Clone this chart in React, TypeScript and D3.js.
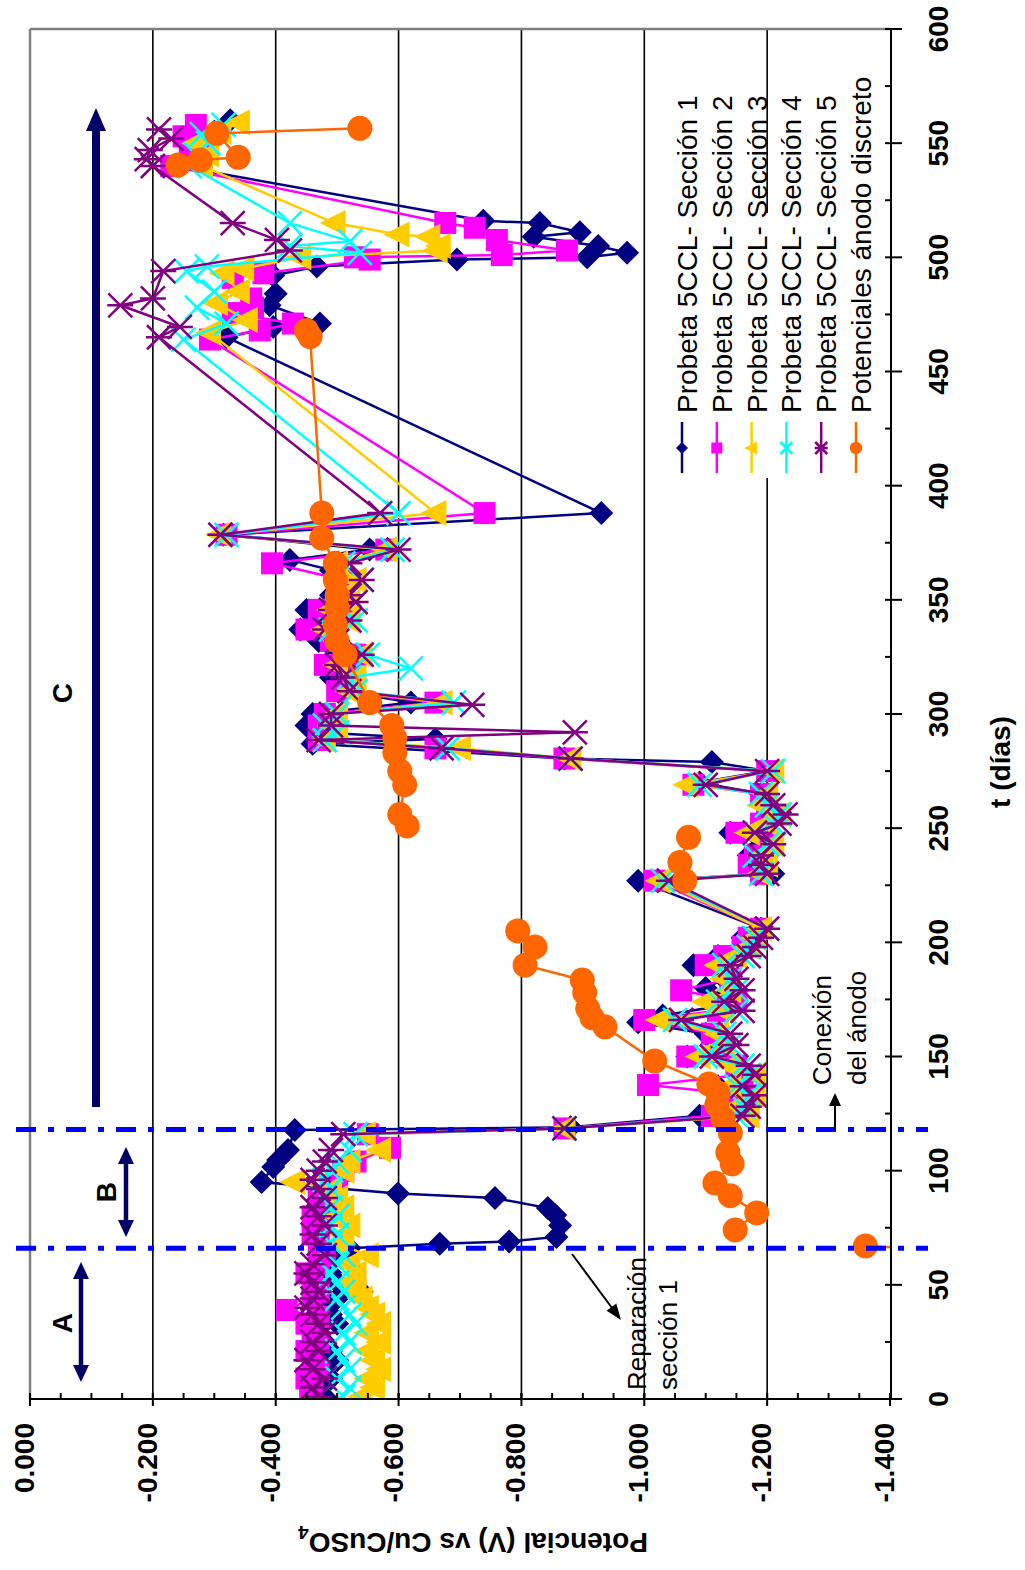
import React from 'react';
import * as d3 from 'd3';

type P = [number, number];

const timeTicks = d3.range(0, 601, 50);
const timeMinor = d3.range(25, 600, 50);
const potTicks = [0, -0.2, -0.4, -0.6, -0.8, -1.0, -1.2, -1.4];
const potMinor = d3.range(0, -1.401, -0.05);
const gridVals = [-0.2, -0.4, -0.6, -0.8, -1.0, -1.2];

const seriesNames = [
  'Probeta 5CCL- Sección 1',
  'Probeta 5CCL- Sección 2',
  'Probeta 5CCL- Sección 3',
  'Probeta 5CCL- Sección 4',
  'Probeta 5CCL- Sección 5',
  'Potenciales ánodo discreto',
];
const seriesColors = ['#000080', '#FF00FF', '#FFCC00', '#00FFFF', '#800080', '#FF6600'];
const seriesMarkers = ['diamond', 'square', 'triangle', 'x', 'star', 'circle'];

const serie1: P[] = [
  [1,-0.48],[5,-0.47],[9,-0.49],[13,-0.48],[17,-0.50],[21,-0.49],[25,-0.48],[29,-0.47],[33,-0.50],[37,-0.49],[40,-0.48],[44,-0.50],[47,-0.54],[51,-0.50],[55,-0.49],[59,-0.48],[63,-0.50],[66,-0.52],
  [68,-0.667],[69,-0.78],[71,-0.857],[76,-0.863],[80.6,-0.855],[83.6,-0.843],[88,-0.757],[90,-0.599],[95,-0.377],[101.6,-0.396],[104.7,-0.404],[109,-0.42],[117.8,-0.431],[119,-0.88],
  [124,-1.09],[128,-1.13],[133,-1.16],[137,-1.12],[142,-1.17],[146,-1.15],[150,-1.07],[155,-1.12],[160,-1.10],[165,-0.99],[168,-1.03],[172,-1.12],[176,-1.14],[180,-1.10],[184,-1.13],[190,-1.08],[194,-1.12],[198,-1.17],[202,-1.16],[206,-1.19],[227,-0.99],[230,-1.21],[234,-1.18],[238,-1.17],[243,-1.19],[248,-1.14],[252,-1.20],[256,-1.21],[260,-1.20],[265,-1.19],[270,-1.09],[275,-1.20],[279,-1.11],[280.5,-0.87],
  [287,-0.46],[289,-0.66],[292,-0.47],[295,-0.45],[300,-0.46],[305,-0.62],[310,-0.51],[316,-0.49],[321,-0.52],[326,-0.50],[332,-0.47],[337,-0.44],[341,-0.48],[345.6,-0.45],[349,-0.50],[352,-0.49],[358.7,-0.52],[363,-0.49],[367.5,-0.423],[372,-0.553],[378.5,-0.315],[388,-0.93],
  [465,-0.32],[469.5,-0.396],[471,-0.472],[479,-0.39],[484,-0.40],[492,-0.396],[496,-0.467],[499,-0.695],[500,-0.907],[502,-0.972],[505,-0.925],[509,-0.82],[511,-0.895],[515,-0.83],[516,-0.738],[540,-0.24],[545,-0.26],[550,-0.28],[555,-0.30],[560,-0.326],
];

const serie2: P[] = [
  [1,-0.456],[5,-0.46],[9,-0.45],[13,-0.47],[17,-0.46],[21,-0.45],[25,-0.47],[29,-0.46],[33,-0.45],[36,-0.47],[39,-0.418],[44,-0.46],[47,-0.47],[51,-0.46],[55,-0.45],[59,-0.47],[63,-0.48],
  [68,-0.47],[72,-0.46],[76,-0.47],[80,-0.46],[84,-0.48],[88,-0.47],[92,-0.49],[96,-0.50],[100,-0.51],[104,-0.53],[110,-0.586],[116,-0.55],[118.5,-0.87],
  [124,-1.11],[128,-1.14],[133,-1.17],[137.5,-1.006],[142,-1.16],[146,-1.15],[150,-1.07],[155,-1.13],[160,-1.11],[166,-1.00],[170,-1.12],[174,-1.15],[179,-1.06],[184,-1.14],[190,-1.10],[194,-1.13],[198,-1.16],[202,-1.17],[206,-1.19],[227,-1.017],[230,-1.19],[234,-1.17],[238,-1.18],[243,-1.20],[248,-1.15],[252,-1.19],[256,-1.22],[260,-1.20],[265,-1.19],[269,-1.08],[275,-1.20],[280.5,-0.87],
  [285,-0.66],[288.6,-0.47],[292,-0.49],[295,-0.47],[300,-0.48],[305,-0.66],[310,-0.50],[316,-0.52],[321.5,-0.48],[326,-0.53],[332,-0.49],[337,-0.45],[341,-0.50],[345.6,-0.47],[349,-0.51],[352,-0.50],[358.7,-0.51],[366,-0.394],[372,-0.58],[378.5,-0.32],[388,-0.74],
  [464,-0.293],[468,-0.374],[471,-0.428],[475.6,-0.33],[478,-0.363],[482,-0.36],[491,-0.33],[493,-0.38],[499,-0.553],[500,-0.529],[501,-0.768],[503,-0.874],[507.6,-0.76],[513,-0.724],[515,-0.676],[540,-0.23],[545,-0.26],[549,-0.29],[553,-0.25],[558,-0.27],
];

const serie3: P[] = [
  [1,-0.54],[5,-0.56],[9,-0.55],[13,-0.57],[17,-0.56],[21,-0.55],[25,-0.57],[29,-0.55],[33,-0.57],[37,-0.56],[40,-0.55],[44,-0.54],[47,-0.53],[51,-0.52],[55,-0.53],[59,-0.52],[63,-0.55],
  [68,-0.50],[72,-0.51],[76,-0.52],[80,-0.50],[84,-0.51],[88,-0.50],[92,-0.49],[95,-0.43],[100,-0.51],[104,-0.52],[109,-0.57],[116,-0.545],[118.5,-0.87],
  [124,-1.17],[128,-1.15],[133,-1.18],[137,-1.14],[142,-1.18],[146,-1.14],[150,-1.09],[155,-1.13],[160,-1.12],[166,-1.025],[170,-1.13],[174,-1.10],[179,-1.14],[184,-1.13],[190,-1.12],[194,-1.15],[198,-1.17],[202,-1.18],[206,-1.19],[227,-1.025],[230,-1.19],[234,-1.20],[238,-1.19],[243,-1.21],[248,-1.17],[252,-1.20],[256,-1.22],[260,-1.19],[265,-1.20],[269,-1.07],[275,-1.21],[280.5,-0.88],
  [285,-0.70],[288.6,-0.48],[292,-0.50],[295,-0.49],[300,-0.50],[305,-0.67],[310,-0.52],[316,-0.53],[321.5,-0.50],[326,-0.54],[332,-0.50],[337,-0.48],[341,-0.52],[345.6,-0.49],[349,-0.52],[352,-0.51],[358.7,-0.53],[366,-0.50],[372,-0.58],[378.5,-0.31],[388,-0.66],
  [467,-0.293],[472.6,-0.353],[480,-0.304],[485,-0.34],[493,-0.315],[495,-0.347],[500,-0.44],[503,-0.662],[505,-0.667],[509,-0.65],[510,-0.60],[515,-0.496],[540,-0.28],[545,-0.29],[550,-0.27],[555,-0.31],[559,-0.34],
];

const serie4: P[] = [
  [1,-0.51],[5,-0.52],[9,-0.50],[13,-0.52],[17,-0.51],[21,-0.50],[25,-0.52],[29,-0.51],[33,-0.53],[37,-0.52],[40,-0.51],[44,-0.50],[47,-0.51],[51,-0.50],[55,-0.49],[59,-0.50],[63,-0.51],
  [68,-0.49],[72,-0.50],[76,-0.49],[80,-0.50],[84,-0.49],[88,-0.48],[92,-0.49],[96,-0.48],[100,-0.49],[104,-0.50],[109,-0.52],[116,-0.53],[118.5,-0.87],
  [124,-1.15],[128,-1.16],[133,-1.17],[137,-1.15],[142,-1.17],[146,-1.16],[150,-1.10],[155,-1.14],[160,-1.13],[166,-1.05],[170,-1.15],[174,-1.12],[179,-1.15],[184,-1.14],[190,-1.13],[194,-1.16],[198,-1.17],[202,-1.18],[206,-1.20],[227,-1.03],[230,-1.19],[234,-1.19],[238,-1.18],[243,-1.20],[248,-1.18],[252,-1.21],[256,-1.22],[260,-1.20],[265,-1.19],[269,-1.09],[275,-1.21],[280.5,-0.88],
  [285,-0.68],[288.6,-0.48],[292,-0.50],[295,-0.48],[300,-0.50],[305,-0.69],[310,-0.53],[316,-0.52],[320,-0.62],[326,-0.55],[332,-0.50],[337,-0.49],[341,-0.53],[345.6,-0.50],[349,-0.53],[352,-0.52],[358.7,-0.54],[366,-0.51],[372,-0.59],[378.5,-0.32],[388,-0.60],
  [464,-0.25],[471,-0.32],[478,-0.272],[485,-0.30],[494,-0.255],[496,-0.288],[502,-0.537],[505,-0.423],[507,-0.521],[515,-0.423],[540,-0.26],[545,-0.27],[550,-0.29],[554,-0.28],[558,-0.315],
];

const serie5: P[] = [
  [1,-0.47],[5,-0.46],[9,-0.48],[13,-0.46],[17,-0.45],[21,-0.47],[25,-0.46],[29,-0.48],[33,-0.47],[37,-0.46],[40,-0.45],[44,-0.46],[47,-0.47],[51,-0.46],[55,-0.45],[59,-0.46],[63,-0.48],
  [68,-0.47],[72,-0.46],[76,-0.48],[80,-0.47],[84,-0.46],[88,-0.48],[92,-0.47],[96,-0.46],[100,-0.47],[104,-0.48],[109,-0.49],[116,-0.51],[118.5,-0.87],
  [124,-1.16],[128,-1.17],[133,-1.18],[137,-1.16],[142,-1.18],[146,-1.17],[150,-1.11],[155,-1.15],[160,-1.14],[166,-1.06],[170,-1.16],[174,-1.13],[179,-1.16],[184,-1.15],[190,-1.14],[194,-1.17],[198,-1.18],[202,-1.19],[206,-1.20],[227,-1.04],[230,-1.20],[234,-1.19],[238,-1.19],[243,-1.21],[248,-1.18],[252,-1.22],[256,-1.23],[260,-1.21],[265,-1.20],[269,-1.10],[275,-1.20],[280.5,-0.88],
  [285,-0.67],[288.6,-0.47],[292,-0.887],[295,-0.49],[300,-0.49],[304,-0.72],[310,-0.52],[316,-0.51],[321.5,-0.50],[326,-0.54],[332,-0.50],[337,-0.48],[341,-0.52],[345.6,-0.49],[349,-0.53],[352,-0.52],[358.7,-0.54],[366,-0.52],[372,-0.60],[378.5,-0.31],[388,-0.57],
  [465,-0.21],[469.5,-0.244],[479,-0.147],[482,-0.20],[494,-0.217],[503,-0.423],[507.6,-0.402],[515,-0.33],[540,-0.20],[543,-0.19],[547,-0.195],[552,-0.23],[556,-0.21],
];

// null = break in the line
const anodo: (P | null)[] = [
  [65,-1.50],[67,-1.36], null,
  [74,-1.148],[81.5,-1.183],[89,-1.14],[94.6,-1.115],[103,-1.143],[108,-1.136],[116.5,-1.14],[123,-1.128],[128.8,-1.118],[134,-1.12],[138,-1.105],[148,-1.017],[163,-0.936],[167,-0.915],[171,-0.908],[178,-0.903],[183.5,-0.899],[190,-0.806],[198,-0.822],[205,-0.794], null,
  [227,-1.066],[235,-1.058],[246,-1.072], null,
  [251,-0.614],[256,-0.602],[269,-0.61],[275,-0.602],[283,-0.594],[289.5,-0.594],[295,-0.589],[305,-0.553],[326,-0.513],[332,-0.5],[339,-0.497],[346.5,-0.5],[352,-0.5],[358.7,-0.497],[366,-0.497],[377,-0.475],[388,-0.475],[465.3,-0.456],[468,-0.45], null,
  [540.4,-0.241],[542.6,-0.277],[543.8,-0.339],[554.3,-0.304],[556.5,-0.537],
];

const allSeries: (P | null)[][] = [serie1, serie2, serie3, serie4, serie5, anodo];

const dashDays = [66, 118];

const W = 1025;
const H = 1570;
// unrotated frame: u = time axis (left->right), v = potential (top->bottom)
const xT = d3.scaleLinear().domain([0, 600]).range([171, 1541]);
const yP = d3.scaleLinear().domain([0, -1.4]).range([30, 890]);
const FONT = '"Liberation Sans", Arial, Helvetica, sans-serif';

function Marker({ kind, color, x, y, s = 1 }: { kind: string; color: string; x: number; y: number; s?: number }) {
  const t = `translate(${x},${y}) scale(${s})`;
  const sw = 2.5 / s;
  switch (kind) {
    case 'diamond':
      return <path transform={t} d="M0,-12L12,0L0,12L-12,0Z" fill={color} />;
    case 'square':
      return <path transform={t} d="M-11,-11H11V11H-11Z" fill={color} />;
    case 'triangle':
      return <path transform={t} d="M0,-15L13,11L-13,11Z" fill={color} />;
    case 'x':
      return (
        <path transform={t} d="M-12,-12L12,12M-12,12L12,-12" stroke={color} strokeWidth={sw} fill="none" />
      );
    case 'star':
      return (
        <path transform={t} d="M-12,-12L12,12M-12,12L12,-12M0,-13L0,13" stroke={color} strokeWidth={sw} fill="none" />
      );
    default:
      return <circle transform={t} cx={0} cy={0} r={12.5} fill={color} />;
  }
}

function arrowHead(x1: number, y1: number, x2: number, y2: number, len: number, hw: number) {
  const a = Math.atan2(y2 - y1, x2 - x1);
  const bx = x2 - len * Math.cos(a);
  const by = y2 - len * Math.sin(a);
  const px = -Math.sin(a) * hw;
  const py = Math.cos(a) * hw;
  return `M${x2},${y2}L${bx + px},${by + py}L${bx - px},${by - py}Z`;
}

function DoubleArrow({ v, u1, u2, color }: { v: number; u1: number; u2: number; color: string }) {
  return (
    <g>
      <line x1={u1 + 12} y1={v} x2={u2 - 12} y2={v} stroke={color} strokeWidth={4.5} />
      <path d={arrowHead(u2, v, u1, v, 17, 8)} fill={color} />
      <path d={arrowHead(u1, v, u2, v, 17, 8)} fill={color} />
    </g>
  );
}

export default function App() {
  const line = d3
    .line<P | null>()
    .defined((d) => d !== null)
    .x((d) => xT((d as P)[0]))
    .y((d) => yP((d as P)[1]));

  const legendV = (i: number) => 682 + i * 34.8;

  return (
    <svg
      width={W}
      height={H}
      style={{ position: 'absolute', left: 0, top: 0, background: '#fff' }}
      fontFamily={FONT}
    >
      <rect x={0} y={0} width={W} height={H} fill="#fff" />
      <defs>
        <clipPath id="plotClip">
          <rect x={171} y={30} width={1541 - 171} height={890 - 30} />
        </clipPath>
      </defs>
      <g transform={`translate(0,${H}) rotate(-90)`}>
        {/* gridlines */}
        {gridVals.map((g) => (
          <line key={g} x1={171} x2={1541} y1={yP(g)} y2={yP(g)} stroke="#000" strokeWidth={1.6} />
        ))}
        {/* plot border (gray) */}
        <line x1={171} x2={1541} y1={30} y2={30} stroke="#808080" strokeWidth={2.5} />
        <line x1={1541} x2={1541} y1={30} y2={890} stroke="#808080" strokeWidth={2.5} />

        {/* series */}
        <g clipPath="url(#plotClip)">
          {allSeries.map((s, i) => (
            <g key={i}>
              <path d={line(s) || ''} fill="none" stroke={seriesColors[i]} strokeWidth={2.5} />
              {s.map((d, j) =>
                d ? <Marker key={j} kind={seriesMarkers[i]} color={seriesColors[i]} x={xT(d[0])} y={yP(d[1])} /> : null
              )}
            </g>
          ))}
        </g>

        {/* axes */}
        <line x1={171} x2={1541} y1={891} y2={891} stroke="#000" strokeWidth={2} />
        {timeTicks.map((t) => (
          <line key={t} x1={xT(t)} x2={xT(t)} y1={885} y2={902} stroke="#000" strokeWidth={2} />
        ))}
        {timeMinor.map((t) => (
          <line key={t} x1={xT(t)} x2={xT(t)} y1={885} y2={891} stroke="#000" strokeWidth={2} />
        ))}
        {timeTicks.map((t) => (
          <text key={t} x={xT(t)} y={948} textAnchor="middle" fontSize={28} fontWeight="bold">
            {t}
          </text>
        ))}
        <line x1={171} x2={171} y1={30} y2={891} stroke="#000" strokeWidth={2} />
        {potTicks.map((p) => (
          <line key={p} x1={164} x2={177} y1={yP(p)} y2={yP(p)} stroke="#000" strokeWidth={2} />
        ))}
        {potMinor.map((p, i) => (
          <line key={i} x1={171} x2={177} y1={yP(p)} y2={yP(p)} stroke="#000" strokeWidth={2} />
        ))}
        {potTicks.map((p) => (
          <text key={p} x={147} y={yP(p) + 4} textAnchor="end" fontSize={28} fontWeight="bold">
            {d3.format('.3f')(p).replace('−', '-')}
          </text>
        ))}

        {/* axis titles */}
        <text x={808} y={1010} textAnchor="middle" fontSize={28} fontWeight="bold">
          t (días)
        </text>
        <text transform="translate(37,473) rotate(-90)" textAnchor="middle" fontSize={28} fontWeight="bold">
          Potencial (V) vs Cu/CuSO<tspan fontSize={19} dy={7}>4</tspan>
        </text>

        {/* legend */}
        <rect x={1092} y={668} width={265} height={210} fill="#fff" />
        {seriesNames.map((n, i) => (
          <g key={n}>
            <line x1={1097} x2={1148} y1={legendV(i)} y2={legendV(i)} stroke={seriesColors[i]} strokeWidth={2.5} />
            <Marker kind={seriesMarkers[i]} color={seriesColors[i]} x={1122} y={legendV(i)} s={0.5} />
            <text x={1157} y={legendV(i) + 15} fontSize={28}>
              {n}
            </text>
          </g>
        ))}

        {/* phase markers */}
        {dashDays.map((d) => (
          <line
            key={d}
            x1={xT(d)}
            x2={xT(d)}
            y1={16}
            y2={928}
            stroke="#0000FF"
            strokeWidth={5}
            strokeDasharray="20 12 6 12"
          />
        ))}

        {/* arrow C */}
        <rect x={463} y={92} width={1440 - 463} height={8} fill="#000066" />
        <path d={arrowHead(1400, 96, 1462, 96, 23, 10)} fill="#000066" />
        <text x={877} y={72} textAnchor="middle" fontSize={28} fontWeight="bold">C</text>

        <DoubleArrow v={81} u1={188} u2={308} color="#000066" />
        <text x={247} y={72} textAnchor="middle" fontSize={28} fontWeight="bold">A</text>
        <DoubleArrow v={126} u1={333} u2={423} color="#000066" />
        <text x={378} y={116} textAnchor="middle" fontSize={28} fontWeight="bold">B</text>

        {/* annotations */}
        <line x1={316} y1={572} x2={258} y2={615} stroke="#000" strokeWidth={2} />
        <path d={arrowHead(316, 572, 250, 621, 16, 6)} fill="#000" />
        <text x={180} y={646} fontSize={26}>Reparación</text>
        <text x={180} y={677} fontSize={26}>sección 1</text>

        <line x1={440} y1={835} x2={465} y2={835} stroke="#000" strokeWidth={2} />
        <path d={arrowHead(440, 835, 477, 835, 13, 6)} fill="#000" />
        <text x={485} y={831} fontSize={26}>Conexión</text>
        <text x={485} y={866} fontSize={26}>del ánodo</text>
      </g>
    </svg>
  );
}
